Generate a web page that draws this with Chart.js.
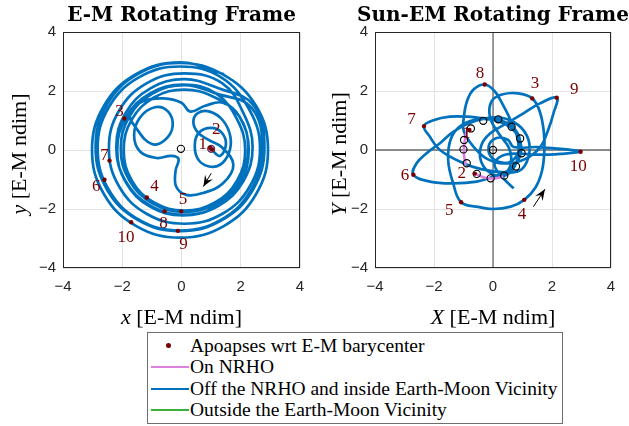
<!DOCTYPE html>
<html lang="en">
<head>
<meta charset="UTF-8">
<title>E-M and Sun-EM Rotating Frame</title>
<script src="https://cdn.jsdelivr.net/npm/chart.js"></script>
<style>
  body { margin: 0; background: #fff; }
  #fig { position: relative; width: 629px; height: 426px; overflow: hidden; }
  #left { position: absolute; left: 0; top: 0; }
  #right { position: absolute; left: 320px; top: 0; }
  .legend {
    position: absolute; left: 147px; top: 332px; width: 416px; height: 92px;
    box-sizing: border-box; border: 1px solid #6e6e6e; background: #fff;
    font-family: "Liberation Serif", serif; font-size: 19.5px; color: #000;
  }
  .row { position: absolute; left: 0; width: 100%; height: 22px; }
  .swatch { position: absolute; left: 3px; top: 10px; width: 38px; border-top: 2px solid; }
  .dot { position: absolute; left: 18px; top: 8px; width: 5px; height: 5px; border-radius: 50%; background: #7a0000; }
  .txt { position: absolute; left: 42px; top: 0; line-height: 22px; white-space: nowrap; }
</style>
</head>
<body>
<div id="fig">
  <canvas id="left" width="330" height="330"></canvas>
  <canvas id="right" width="309" height="330"></canvas>
  <div class="legend">
    <div class="row" style="top:2px"><span class="dot"></span><span class="txt">Apoapses wrt E-M barycenter</span></div>
    <div class="row" style="top:23px"><span class="swatch" style="border-color:#dc82dc"></span><span class="txt">On NRHO</span></div>
    <div class="row" style="top:44.5px"><span class="swatch" style="border-color:#0072bd"></span><span class="txt">Off the NRHO and inside Earth-Moon Vicinity</span></div>
    <div class="row" style="top:66px"><span class="swatch" style="border-color:#3daf3d"></span><span class="txt">Outside the Earth-Moon Vicinity</span></div>
  </div>
</div>
<script>
  const BLUE = '#0072bd', PINK = '#dc82dc', DARKRED = '#7a0000';

  // ---- E-M rotating frame (left) ----
  const leftNrho = [[0.98,0.09],[1.04,0.06],[1.05,0.0],[1.0,-0.03],[0.95,0.02],[0.97,0.08]];
  const leftInner = [
    [1.0,0.02],[1.3,-0.2],[1.5,0.2],[1.35,0.6],[1.0,0.75],[0.6,0.6],[0.45,0.2],[0.55,-0.3],
    [0.9,-0.55],[1.3,-0.5],[1.6,-0.1],[1.65,0.45],[1.4,1.0],[0.95,1.3],[0.55,1.25],[0.4,0.95],
    [0.55,0.6],[0.9,0.35],[1.35,0.1],[1.75,-0.5],[1.4,-1.13],[0.72,-1.46],[0.16,-1.52],[-0.18,-1.24],
    [-0.2,-0.7],[-0.1,-0.3],[-0.35,-0.2],[-0.85,-0.27],[-1.4,-0.05],[-1.6,0.5],[-1.4,1.1],[-0.9,1.45],
    [-0.45,1.3],[-0.3,0.8],[-0.55,0.35],[-1.0,0.2],[-1.5,0.7],[-1.75,1.25],[-1.3,1.65],[-0.6,1.75],
    [0.0,1.6],[0.3,1.3],[0.8,1.5],[1.4,1.6]
  ];
  const ring3 = [[1.97,1.11],[2.27,0],[1.97,-1.11],[1.16,-1.92],[0.05,-2.22],[-1.06,-1.92],[-1.87,-1.11],[-2.17,0],[-1.87,1.11],[-1.06,1.92],[0.05,2.22],[1.16,1.92]];
  const ring4 = [[1.88,1.03],[2.15,0],[1.88,-1.03],[1.13,-1.78],[0.1,-2.05],[-0.93,-1.78],[-1.68,-1.03],[-1.95,0],[-1.68,1.03],[-0.93,1.78],[0.1,2.05],[1.13,1.78]];
  const ring5 = [[1.96,1.13],[2.25,0.05],[1.96,-1.03],[1.18,-1.81],[0.1,-2.1],[-0.98,-1.81],[-1.76,-1.03],[-2.05,0.05],[-1.76,1.13],[-0.98,1.91],[0.1,2.2],[1.18,1.91]];
  const ring6 = [[2.36,1.44],[2.73,0.05],[2.36,-1.34],[1.34,-2.36],[-0.05,-2.73],[-1.44,-2.36],[-2.46,-1.34],[-2.83,0.05],[-2.46,1.44],[-1.44,2.46],[-0.05,2.83],[1.34,2.46]];
  const ring7 = [[2.31,1.33],[2.65,0.05],[2.31,-1.23],[1.38,-2.16],[0.1,-2.5],[-1.18,-2.16],[-2.11,-1.23],[-2.45,0.05],[-2.11,1.33],[-1.18,2.26],[0.1,2.6],[1.38,2.26]];
  const ring8 = [[2.09,1.25],[2.4,0.1],[2.09,-1.05],[1.25,-1.89],[0.1,-2.2],[-1.05,-1.89],[-1.89,-1.05],[-2.2,0.1],[-1.89,1.25],[-1.05,2.09],[0.1,2.4],[1.25,2.09]];
  const ring9 = [[2.42,1.53],[2.8,0.1],[2.42,-1.33],[1.38,-2.37],[-0.05,-2.75],[-1.48,-2.37],[-2.52,-1.33],[-2.9,0.1],[-2.52,1.53],[-1.48,2.57],[-0.05,2.95],[1.38,2.57]];
  const ring10 = [[2.52,1.49],[2.92,0],[2.52,-1.49],[1.44,-2.57],[-0.05,-2.97],[-1.54,-2.57],[-2.62,-1.49],[-3.02,0],[-2.62,1.49],[-1.54,2.57],[-0.05,2.97],[1.44,2.57]];
  const leftApoX = [0.97, 1.03, -1.93, -1.17, -0.01, -2.6, -2.43, -0.57, -0.12, -1.7];
  const leftApoY = [0.07, 0.02, 1.07, -1.61, -2.08, -1.01, -0.36, -2.08, -2.74, -2.45];
  const leftLabelX = [0.72, 1.17, -2.09, -0.91, 0.05, -2.88, -2.6, -0.61, 0.07, -1.87];
  const leftLabelY = [0.17, 0.68, 1.3, -1.24, -1.69, -1.24, -0.2, -2.48, -3.21, -2.98];
  const leftEarth = [[-0.02, 0.04]];
  const leftMoon = [[1.0, 0.04]];

  // ---- Sun-EM rotating frame (right) ----
  const rightNrho1 = [[-0.85,0.75],[-0.93,0.45],[-0.98,0.1],[-0.98,-0.2],[-0.92,-0.5]];
  const rightNrho2 = [[-0.62,-0.8],[-0.3,-0.93],[0.0,-0.97],[0.35,-0.9]];
  const rightPath = [
    [0.35,-0.9],[0.6,-0.5],[0.55,0.05],[0.2,0.55],[-0.1,1.1],[-0.05,1.65],[0.3,1.88],[0.85,1.92],
    [1.33,1.75],[1.58,1.32],[1.72,0.64],[1.74,-0.03],[1.66,-0.71],[1.44,-1.27],
    [1.06,-1.69],[0.6,-1.92],[0.0,-2.0],[-0.5,-1.93],
    [-1.08,-1.77],[-1.35,-1.13],[-1.52,-0.34],[-1.42,0.4],[-1.05,0.85],[-0.45,1.05],[0.25,0.95],
    [0.8,0.55],[0.95,-0.05],[0.65,-0.6],[0.01,-0.9],[-0.55,-1.07],[-1.35,-1.13],[-2.14,-1.07],
    [-2.7,-0.84],[-2.59,-0.45],[-2.25,-0.11],[-1.8,0.23],[-1.3,0.65],[-0.55,1.0],[0.24,1.1],
    [0.85,0.85],[1.2,0.35],[1.2,-0.25],[0.9,-0.7],[0.3,-0.75],[-0.4,-0.65],[-1.0,-0.45],[-1.8,0.0],[-2.14,0.45],
    [-2.34,0.81],[-2.02,1.01],[-1.46,1.13],[-0.89,1.13],[-0.33,1.07],[0.24,1.01],[0.7,0.75],
    [0.92,0.3],[0.8,-0.2],[0.4,-0.45],[-0.2,-0.3],[-0.65,0.1],[-0.99,0.64],[-0.99,1.09],[-0.88,1.66],[-0.66,2.05],
    [-0.28,2.22],[0.05,2.0],[0.3,1.6],[0.6,1.0],[0.85,0.3],[0.8,-0.4],[0.45,-0.85],[-0.05,-0.8],
    [-0.4,-0.4],[-0.4,0.15],[-0.1,0.56],[0.46,0.9],[1.03,1.24],[1.59,1.58],
    [2.16,1.77],[2.05,1.24],[1.87,0.68],[1.6,0.1],[1.1,-0.3],[0.5,-0.45],[0.0,-0.3],[-0.15,0.1],
    [0.1,0.4],[0.5,0.35],[0.7,0.1],[1.5,0.1],[2.5,0.02],
    [2.97,-0.06],[2.3,-0.13],[1.5,-0.16],[0.8,-0.12],[0.3,-0.2],[0.05,-0.5],[0.35,-0.95],[0.7,-1.3]
  ];
  const rightMoonX = [-0.75, -0.33, 0.18, 0.63, 0.92, 0.97, 0.78, 0.38, -0.08, -0.55, -0.89, -1.0, -0.98, 0.0];
  const rightMoonY = [0.73, 0.99, 1.04, 0.79, 0.39, -0.11, -0.56, -0.87, -0.96, -0.81, -0.45, 0.02, 0.34, 0.0];
  const rightApoX = [-0.8, -0.62, 1.33, 1.06, -1.08, -2.7, -2.34, -0.28, 2.16, 2.97];
  const rightApoY = [0.68, -0.8, 1.75, -1.69, -1.77, -0.84, 0.81, 2.22, 1.77, -0.06];
  const rightLabelX = [-0.9, -1.06, 1.42, 0.98, -1.48, -2.98, -2.76, -0.44, 2.75, 2.89];
  const rightLabelY = [0.56, -0.79, 2.26, -2.2, -2.06, -0.87, 1.04, 2.6, 2.05, -0.56];

  const apoNames = ['1','2','3','4','5','6','7','8','9','10'];

  const pts = arr => arr.map(([x, y]) => ({ x, y }));
  const zip = (xs, ys) => xs.map((x, i) => ({ x, y: ys[i] }));

  function lineSet(data, color, order) {
    return { data: pts(data), showLine: true, borderColor: color, borderWidth: 2.7,
             pointRadius: 0, tension: 0.4, fill: false, order };
  }
  function dotSet(data, opts) {
    return Object.assign({ data, showLine: false, pointStyle: 'circle' }, opts);
  }

  function overlay(o) {
    return {
      id: 'overlay',
      beforeDatasetsDraw(chart) {
        if (!o.zeroLines) return;
        const { ctx, chartArea: a, scales: { x, y } } = chart;
        const x0 = x.getPixelForValue(0), y0 = y.getPixelForValue(0);
        ctx.save();
        ctx.strokeStyle = '#6b6b6b'; ctx.lineWidth = 1.3;
        ctx.beginPath();
        ctx.moveTo(x0, a.top); ctx.lineTo(x0, a.bottom);
        ctx.moveTo(a.left, y0); ctx.lineTo(a.right, y0);
        ctx.stroke();
        ctx.restore();
      },
      afterDraw(chart) {
        const { ctx, chartArea: a, scales: { x, y } } = chart;
        ctx.save();
        ctx.strokeStyle = '#262626'; ctx.lineWidth = 1;
        ctx.strokeRect(a.left + 0.5, a.top + 0.5, a.right - a.left - 1, a.bottom - a.top - 1);

        // apoapsis numbers
        ctx.fillStyle = DARKRED;
        ctx.font = '17px "Liberation Serif"';
        ctx.textAlign = 'center'; ctx.textBaseline = 'middle';
        apoNames.forEach((t, i) => {
          ctx.fillText(t, x.getPixelForValue(o.labelX[i]), y.getPixelForValue(o.labelY[i]));
        });

        // arrow
        const tx = x.getPixelForValue(o.arrow[0]), ty = y.getPixelForValue(o.arrow[1]);
        const hx = x.getPixelForValue(o.arrow[2]), hy = y.getPixelForValue(o.arrow[3]);
        const ang = Math.atan2(hy - ty, hx - tx);
        ctx.strokeStyle = '#000'; ctx.fillStyle = '#000'; ctx.lineWidth = 1;
        ctx.beginPath(); ctx.moveTo(tx, ty); ctx.lineTo(hx, hy); ctx.stroke();
        ctx.beginPath();
        ctx.moveTo(hx, hy);
        ctx.lineTo(hx - 11 * Math.cos(ang) + 4.5 * Math.sin(ang), hy - 11 * Math.sin(ang) - 4.5 * Math.cos(ang));
        ctx.lineTo(hx - 7 * Math.cos(ang), hy - 7 * Math.sin(ang));
        ctx.lineTo(hx - 11 * Math.cos(ang) - 4.5 * Math.sin(ang), hy - 11 * Math.sin(ang) + 4.5 * Math.cos(ang));
        ctx.closePath(); ctx.fill();

        // title
        const cx = (a.left + a.right) / 2;
        ctx.fillStyle = '#000';
        ctx.font = 'bold 20px "DejaVu Serif"';
        ctx.textAlign = 'center'; ctx.textBaseline = 'alphabetic';
        ctx.fillText(o.title, cx, 21);

        // axis labels: italic variable + upright unit
        const drawLabel = (v, rest, px, py, rot) => {
          ctx.save();
          ctx.translate(px, py); ctx.rotate(rot);
          ctx.font = 'italic 22px "Liberation Serif"';
          const w1 = ctx.measureText(v).width;
          ctx.font = '22px "Liberation Serif"';
          const w2 = ctx.measureText(rest).width;
          const start = -(w1 + w2) / 2;
          ctx.textAlign = 'left'; ctx.textBaseline = 'middle';
          ctx.font = 'italic 22px "Liberation Serif"';
          ctx.fillText(v, start, 0);
          ctx.font = '22px "Liberation Serif"';
          ctx.fillText(rest, start + w1, 0);
          ctx.restore();
        };
        drawLabel(o.xVar, ' [E-M ndim]', cx, 318, 0);
        drawLabel(o.yVar, ' [E-M ndim]', 20, (a.top + a.bottom) / 2 + 4, -Math.PI / 2);
        ctx.restore();
      }
    };
  }

  function axis(isY) {
    return {
      type: 'linear', min: -4, max: 4,
      afterFit(s) { if (isY) s.width = 40; else s.height = 30; },
      ticks: { stepSize: 2, padding: isY ? 7 : 10, color: '#262626', maxRotation: 0,
               font: { family: 'Liberation Sans', size: 15 },
               callback: v => (v < 0 ? '\u2212' + Math.abs(v) : String(v)) },
      grid: { color: '#e3e3e3', drawTicks: false },
      border: { display: false }
    };
  }

  function makeChart(id, datasets, padLeft, padRight, o) {
    return new Chart(document.getElementById(id), {
      type: 'scatter',
      data: { datasets },
      options: {
        responsive: false, animation: false, devicePixelRatio: 1,
        layout: { padding: { left: padLeft, right: padRight, top: 32, bottom: 32 } },
        plugins: { legend: { display: false }, tooltip: { enabled: false } },
        scales: { x: axis(false), y: axis(true) }
      },
      plugins: [overlay(o)]
    });
  }

  const leftPath = [].concat(leftInner, ring3, ring4, ring5, ring6, ring7, ring8, ring9, ring10);

  makeChart('left', [
    dotSet(zip(leftApoX, leftApoY), { pointRadius: 2.2, backgroundColor: DARKRED, borderColor: DARKRED, borderWidth: 0, order: 0 }),
    dotSet(pts(leftMoon), { pointRadius: 3.6, backgroundColor: '#c98ae0', borderColor: '#3a1a3a', borderWidth: 1, order: 1 }),
    dotSet(pts(leftEarth), { pointRadius: 3.6, backgroundColor: 'rgba(0,0,0,0)', borderColor: '#000', borderWidth: 1.1, order: 1 }),
    lineSet(leftNrho, PINK, 2),
    lineSet(leftPath, BLUE, 3)
  ], 23, 30, {
    title: 'E-M Rotating Frame', xVar: 'x', yVar: 'y',
    labelX: leftLabelX, labelY: leftLabelY, arrow: [1.0, -0.79, 0.74, -1.24], zeroLines: false
  });

  makeChart('right', [
    dotSet(zip(rightApoX, rightApoY), { pointRadius: 2.2, backgroundColor: DARKRED, borderColor: DARKRED, borderWidth: 0, order: 0 }),
    dotSet(zip(rightMoonX, rightMoonY), { pointRadius: 3.6, backgroundColor: 'rgba(0,0,0,0)', borderColor: '#000', borderWidth: 1.1, order: 1 }),
    lineSet(rightNrho1, PINK, 2),
    lineSet(rightNrho2, PINK, 2),
    lineSet(rightPath, BLUE, 3)
  ], 15, 18, {
    title: 'Sun-EM Rotating Frame', xVar: 'X', yVar: 'Y',
    labelX: rightLabelX, labelY: rightLabelY, arrow: [1.37, -1.92, 1.76, -1.33], zeroLines: true
  });
</script>
</body>
</html>
